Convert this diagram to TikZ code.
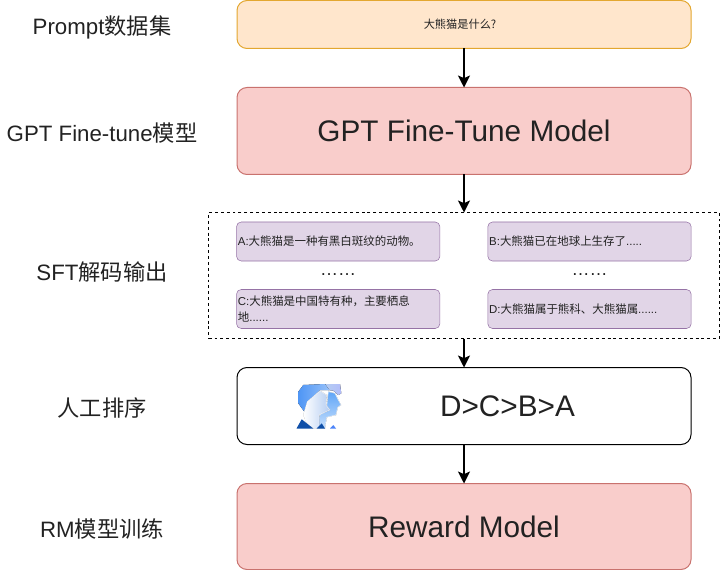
\documentclass[tikz,border=0pt]{standalone}
\usepackage{fontspec}
\setmainfont{Liberation Sans}
\newfontfamily\cjk{Noto Sans CJK SC}
\usepackage{xcolor}
\usetikzlibrary{arrows.meta,positioning}
\definecolor{promptfill}{HTML}{FFE6CC}
\definecolor{promptline}{HTML}{E3A72F}
\definecolor{modelfill}{HTML}{F9CDCB}
\definecolor{modelline}{HTML}{C9726E}
\definecolor{answerfill}{HTML}{E1D5E7}
\definecolor{answerline}{HTML}{9673A6}
\definecolor{txt}{HTML}{222222}
\definecolor{hairblue}{HTML}{4F96F5}
\definecolor{paleblue}{HTML}{B4CDF2}
\definecolor{midblue}{HTML}{5FA5F7}
\definecolor{deepblue}{HTML}{0F4FA8}
\begin{document}
\begin{tikzpicture}[
  x=0.75pt,y=-0.75pt,
  node distance=29.25pt,
  every node/.style={outer sep=0pt,text=txt},
  wide/.style={draw,rounded corners=7.5pt,align=center,minimum width=340.5pt,line width=0.75pt},
  prompt/.style={wide,fill=promptfill,draw=promptline,minimum height=36pt,font=\fontsize{8.4pt}{10pt}\selectfont},
  model/.style={wide,fill=modelfill,draw=modelline,font=\fontsize{22.3pt}{26pt}\selectfont},
  rank/.style={wide,fill=white,draw=black,minimum height=57.75pt},
  answer/.style={draw=answerline,fill=answerfill,rounded corners=3.5pt,minimum width=152.5pt,minimum height=29.25pt,text width=150.5pt,inner xsep=1pt,inner ysep=0pt,align=left,font=\fontsize{8.6pt}{12pt}\selectfont},
  group/.style={draw,dash pattern=on 2.2pt off 2.2pt,line width=0.6pt,minimum width=383pt,minimum height=94.5pt},
  lbl/.style={font=\fontsize{16.7pt}{20pt}\selectfont},
  more/.style={font=\fontsize{13.5pt}{16pt}\selectfont},
  arr/.style={-{Stealth[length=9pt,width=9pt,inset=2pt]},line width=1.1pt,black}
]
\useasboundingbox (0,0) rectangle (720,570);
\node[prompt] (ask) at (464,24.5) {\hspace*{-6pt}\cjk 大熊猫是什么?};
\node[model,below=of ask,minimum height=65.25pt] (gpt) {GPT Fine-Tune Model};
\node[group,below=28.5pt of gpt] (sft) {};
\node[rank,below=21.75pt of sft] (human) {};
\node[model,below=of human,minimum height=64.5pt] (reward) {Reward Model};
% four sampled answers
\node[answer] (ansa) at (338.2,241.5) {A:{\cjk 大熊猫是一种有黑白斑纹的动物。}};
\node[answer] (ansb) at (589.5,241.5) {B:{\cjk 大熊猫已在地球上生存了}.....};
\node[answer] (ansc) at (338.2,309) {C:{\cjk 大熊猫是中国特有种，主要栖息}\\{\cjk 地}......};
\node[answer] (ansd) at (589.5,309) {D:{\cjk 大熊猫属于熊科、大熊猫属}......};
\node[more] (dotsl) at (338.2,275) {……};
\node[more] (dotsr) at (589.5,275) {……};
\node[font=\fontsize{22.3pt}{26pt}\selectfont] (order) at (507.5,406) {D>C>B>A};
% row titles
\node[lbl] (lask) at (102,27) {Prompt{\cjk 数据集}};
\node[lbl] (lgpt) at (102,133) {GPT Fine-tune{\cjk 模型}};
\node[lbl] (lsft) at (102,272) {SFT{\cjk 解码输出}};
\node[lbl] (lhuman) at (102,408) {\cjk 人工排序};
\node[lbl] (lreward) at (102,529) {RM{\cjk 模型训练}};
% people icon
\fill[left color=paleblue,right color=paleblue!70!blue!60] (325,384) -- (340,384) -- (341.3,393.3) -- (338.3,395) -- (333.3,390.7) -- (328.3,390) -- cycle;
\fill[left color=hairblue,right color=hairblue!60!white] (298.3,391.7) -- (303.3,385) -- (325,384) -- (329.3,390) -- (320,390) -- (308.3,401.7) -- (306.7,415) -- (298.3,403.3) -- cycle;
\fill[top color=midblue,bottom color=midblue!35!white,draw=white,line width=0.3pt] (328.3,391.7) -- (335,393.3) -- (338.3,400) -- (341,405) -- (337.7,407.3) -- (336,415) -- (326.7,417.3) -- (325,428.3) -- (318.3,428.3) -- (319.3,416) -- (326.7,406.7) -- cycle;
\fill[left color=white,right color=paleblue,draw=white,line width=0.3pt] (320,390.7) -- (326.7,395) -- (326,405) -- (330,410) -- (319,415) -- (319,428.3) -- (313.3,428.3) -- (306.7,423.3) -- (303.3,415) -- (307.3,401.7) -- cycle;
\fill[deepblue] (296.5,428.5) -- (301.7,419.3) -- (306.7,423.3) -- (313.3,428.5) -- cycle;
\fill[deepblue] (316.7,428.5) -- (321.7,423.3) -- (325,428.5) -- cycle;
\fill[midblue!80!blue] (330,428.5) -- (333.3,425) -- (336,428.5) -- cycle;
% arrows
\draw[arr] (ask) -- (gpt);
\draw[arr] (gpt) -- (sft);
\draw[arr] (sft) -- (human);
\draw[arr] (human) -- (reward);
\end{tikzpicture}
\end{document}
